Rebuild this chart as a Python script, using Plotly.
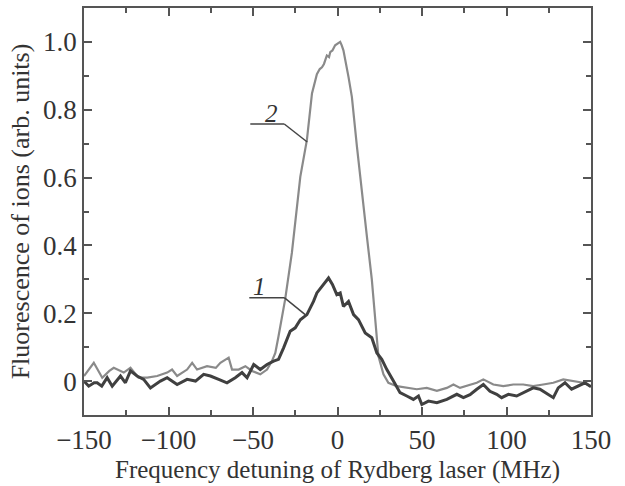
import plotly.graph_objects as go

# Curve 2 (light gray)
x2 = [-150, -147, -144.2, -139.2, -135, -132.4, -126.5, -122.5, -117.8, -112.6,
      -106.7, -100.8, -97.9, -94.9, -89, -86, -83.1, -77.2, -72, -69.3,
      -64.4, -62.4, -58.5, -54.5, -50.6, -45.7, -41.7, -38.8, -36.8, -34.9,
      -32.9, -31, -27, -22, -18.1, -15.1, -12.2, -10.5, -9.2, -8, -6.3,
      -5, -4.3, -3, -1.4, 0, 1.6, 2.5, 3.5, 6.5, 8.5, 11.5, 14.4, 17.4,
      20.3, 22.3, 24.2, 27.2, 30.1, 35.1, 41, 46.9, 52.8, 58.8, 64.7, 68.6,
      72.5, 78.4, 82.4, 86.3, 92.2, 98.1, 104, 109.9, 115.8, 121.7, 127.7,
      133.6, 139.5, 145.4, 150]
y2 = [0.015, 0.035, 0.054, 0.01, 0.03, 0.039, 0.025, 0.039, 0.01, 0.01,
      0.015, 0.025, 0.034, 0.015, 0.034, 0.054, 0.034, 0.044, 0.039, 0.054,
      0.069, 0.034, 0.034, 0.044, 0.03, 0.02, 0.034, 0.059, 0.083, 0.132,
      0.19, 0.24, 0.378, 0.603, 0.711, 0.848, 0.905, 0.92, 0.925, 0.935, 0.96,
      0.955, 0.97, 0.975, 0.99, 0.995, 1.0, 0.99, 0.975, 0.897, 0.838, 0.691, 0.554, 0.426,
      0.30, 0.17, 0.074, 0.02, -0.005, -0.015, -0.02, -0.024, -0.02, -0.029, -0.02, -0.01,
      -0.02, -0.01, -0.005, 0.005, -0.01, -0.015, -0.01, -0.01, -0.015, -0.01, -0.005,
      0.005, 0.0, -0.005, -0.015]

# Curve 1 (dark)
x1 = [-150, -147.2, -144, -142.2, -139.5, -136.3, -133.3, -128.4, -125.5, -122.5,
      -118.6, -114.7, -110.7, -104.8, -100.8, -94.9, -89, -84, -79.2, -75.2,
      -70.3, -65.4, -60.5, -56.5, -53.5, -49.6, -45.7, -41.7, -37.8, -34.9,
      -31.9, -28, -25, -22, -18.1, -14.2, -12.2, -9, -5.3, -3, -0.4, 1.6,
      3.5, 6.5, 9.5, 12.4, 16.4, 20.3, 23.3, 26.2, 29.2, 33.1, 37, 41, 44.9,
      47.9, 49.9, 53.8, 58.8, 64.7, 70.6, 74.5, 78.4, 82.4, 86.3, 90.2, 94.2,
      97.1, 101.1, 106, 109.9, 115.8, 119.8, 125.7, 127.7, 130.6, 134.6, 138.5,
      142.4, 146.4, 150]
y1 = [0.0, -0.015, -0.005, -0.005, -0.015, 0.01, -0.015, 0.015, -0.005, 0.03,
      0.015, 0.005, -0.02, 0.0, 0.01, -0.01, 0.005, 0.0, 0.02, 0.015,
      0.005, -0.005, 0.01, 0.025, 0.01, 0.049, 0.034, 0.049, 0.059, 0.064,
      0.098, 0.147, 0.157, 0.181, 0.196, 0.235, 0.26, 0.282, 0.304, 0.285, 0.255, 0.26,
      0.22, 0.235, 0.196, 0.181, 0.142, 0.128, 0.083, 0.064, 0.034, 0.0, -0.034, -0.044, -0.054,
      -0.044, -0.069, -0.059, -0.064, -0.054, -0.039, -0.049, -0.04, -0.024, -0.01, -0.03, -0.039,
      -0.049, -0.039, -0.044, -0.034, -0.02, -0.024, -0.044, -0.049, -0.02, -0.005, -0.024,
      -0.015, -0.005, -0.017]

x_ticks = [-150, -100, -50, 0, 50, 100, 150]
x_ticktext = ["\u2212150", "\u2212100", "\u221250", "0", "50", "100", "150"]
y_ticks = [0, 0.2, 0.4, 0.6, 0.8, 1.0]
y_ticktext = ["0", "0.2", "0.4", "0.6", "0.8", "1.0"]

FONT = "Liberation Serif"
TXT = "#333333"
AX = "#555555"

fig = go.Figure()
fig.add_trace(go.Scatter(x=x2, y=y2, mode="lines",
                         line=dict(color="#8a8a8a", width=2.2), showlegend=False))
fig.add_trace(go.Scatter(x=x1, y=y1, mode="lines",
                         line=dict(color="#404040", width=3), showlegend=False))

# leader lines
for pts in ([(-51.6, 0.758), (-31.5, 0.758), (-17.9, 0.705)],
            [(-52.2, 0.246), (-31.5, 0.246), (-19.1, 0.196)]):
    for (xa, ya), (xb, yb) in zip(pts[:-1], pts[1:]):
        fig.add_shape(type="line", xref="x", yref="y", x0=xa, y0=ya, x1=xb, y1=yb,
                      line=dict(color="#444444", width=1.5))

fig.add_annotation(x=-39.2, y=0.79, text="<i>2</i>", showarrow=False,
                   font=dict(family=FONT, size=25, color=TXT))
fig.add_annotation(x=-46.3, y=0.28, text="<i>1</i>", showarrow=False,
                   font=dict(family=FONT, size=25, color=TXT))

fig.update_layout(
    width=625, height=486,
    margin=dict(l=84, r=34, t=6, b=71),
    paper_bgcolor="white", plot_bgcolor="white",
    font=dict(family=FONT, color=TXT),
    xaxis=dict(range=[-150, 150], tickvals=x_ticks, ticktext=x_ticktext,
               ticks="inside", ticklen=8, tickwidth=1.5, tickcolor=AX,
               showline=True, linecolor=AX, linewidth=1.5, mirror="ticks",
               showgrid=False, zeroline=False,
               tickfont=dict(family=FONT, size=27, color=TXT),
               minor=dict(dtick=25, tick0=-150, ticks="inside", ticklen=5,
                          tickwidth=1.5, tickcolor=AX, showgrid=False),
               title=dict(text="Frequency detuning of Rydberg laser (MHz)",
                          font=dict(family=FONT, size=25, color=TXT), standoff=6)),
    yaxis=dict(range=[-0.1, 1.1], tickvals=y_ticks, ticktext=y_ticktext,
               ticks="inside", ticklen=8, tickwidth=1.5, tickcolor=AX,
               showline=True, linecolor=AX, linewidth=1.5, mirror="ticks",
               showgrid=False, zeroline=False,
               tickfont=dict(family=FONT, size=27, color=TXT),
               minor=dict(dtick=0.1, tick0=0, ticks="inside", ticklen=5,
                          tickwidth=1.5, tickcolor=AX, showgrid=False),
               title=dict(text="Fluorescence of ions (arb. units)",
                          font=dict(family=FONT, size=26, color=TXT), standoff=6)),
)

fig.write_html("out.html", config={"displayModeBar": False},
               post_script="document.body.style.margin='0';")
